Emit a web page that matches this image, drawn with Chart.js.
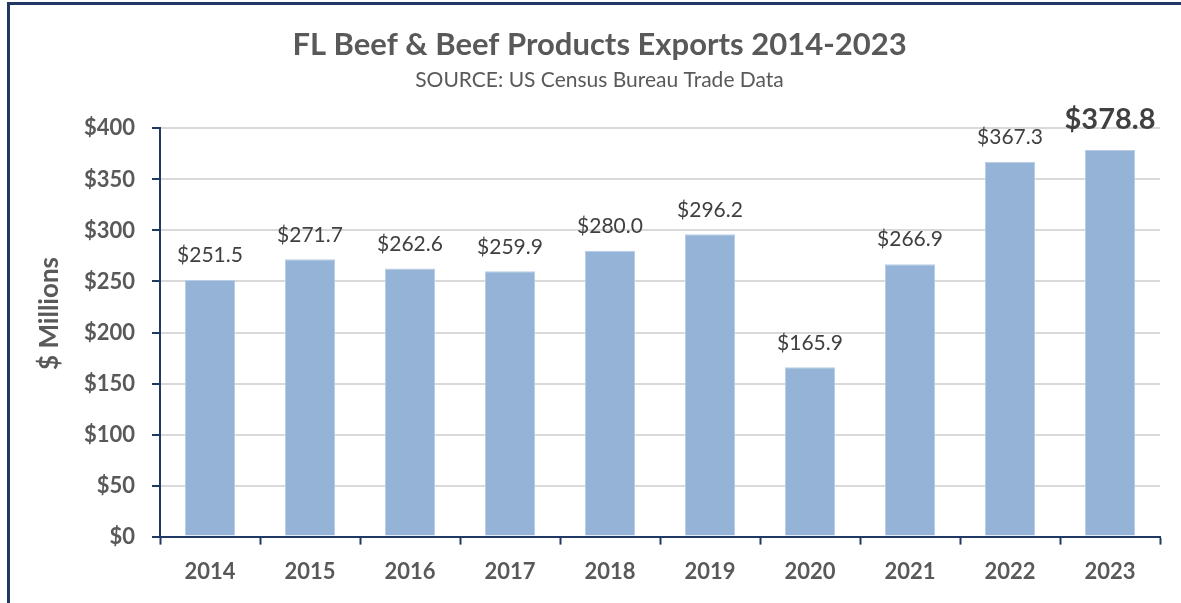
<!DOCTYPE html>
<html lang="en">
<head>
  <meta charset="UTF-8">
  <title>FL Beef & Beef Products Exports 2014-2023</title>
  <script src="https://cdn.jsdelivr.net/npm/chart.js@4"></script>
  <style>
    html, body { margin: 0; padding: 0; background: #fff; overflow: hidden; }
    .frame {
      position: absolute; left: 7px; top: 2px; width: 1300px; height: 700px;
      border-left: 3px solid #1F3864; border-top: 3px solid #1F3864;
    }
    .chart-box { position: absolute; left: 0; top: 0; width: 1181px; height: 603px; }
  </style>
</head>
<body>
<div class="frame"></div>
<div class="chart-box"><canvas id="chart"></canvas></div>
<script>
// données
const years = ['2014', '2015', '2016', '2017', '2018', '2019', '2020', '2021', '2022', '2023'];
const exportsMillions = [251.5, 271.7, 262.6, 259.9, 280.0, 296.2, 165.9, 266.9, 367.3, 378.8];
const yTicks = [0, 50, 100, 150, 200, 250, 300, 350, 400];

const FONT = 'Lato, "Open Sans", sans-serif';
const NAVY = '#1F3864';

// étiquettes au-dessus des barres (la dernière en gras)
const barLabels = {
  id: 'barLabels',
  afterDatasetsDraw(chart) {
    const ctx = chart.ctx;
    const meta = chart.getDatasetMeta(0);
    ctx.save();
    ctx.textAlign = 'center';
    ctx.textBaseline = 'bottom';
    ctx.fillStyle = '#404040';
    meta.data.forEach((bar, i) => {
      const last = i === meta.data.length - 1;
      ctx.font = last ? 'bold 29px ' + FONT : '21px ' + FONT;
      ctx.fillText('$' + exportsMillions[i].toFixed(1), bar.x, bar.y - (last ? 16 : 14));
    });
    ctx.restore();
  }
};

// titre de l'axe Y, un peu au-dessus du centre comme dans Excel
const yAxisTitle = {
  id: 'yAxisTitle',
  afterDraw(chart) {
    const { ctx, chartArea } = chart;
    ctx.save();
    ctx.translate(50, (chartArea.top + chartArea.bottom) / 2 - 19);
    ctx.rotate(-Math.PI / 2);
    ctx.textAlign = 'center';
    ctx.textBaseline = 'middle';
    ctx.fillStyle = '#595959';
    ctx.font = 'bold 26px ' + FONT;
    ctx.fillText('$ Millions', 0, 0);
    ctx.restore();
  }
};

new Chart(document.getElementById('chart'), {
  type: 'bar',
  data: {
    labels: years,
    datasets: [{
      data: exportsMillions,
      backgroundColor: '#95B3D7',
      borderColor: '#B9CDE5',
      borderWidth: 1,
      barPercentage: 0.5,
      categoryPercentage: 1.0
    }]
  },
  options: {
    responsive: true,
    maintainAspectRatio: false,
    animation: false,
    layout: { padding: { top: 12, left: 39, right: 21, bottom: 4 } },
    plugins: {
      legend: { display: false },
      tooltip: { enabled: false },
      title: {
        display: true,
        text: 'FL Beef & Beef Products Exports 2014-2023',
        color: '#595959',
        font: { family: FONT, size: 31, weight: 'bold' },
        padding: { top: 14, bottom: 4 }
      },
      subtitle: {
        display: true,
        text: 'SOURCE: US Census Bureau Trade Data',
        color: '#595959',
        font: { family: FONT, size: 21 },
        padding: { top: 0, bottom: 36 }
      }
    },
    scales: {
      x: {
        grid: {
          drawOnChartArea: false,
          drawTicks: true,
          tickLength: 8,
          tickColor: NAVY,
          tickWidth: 2
        },
        border: { color: NAVY, width: 2 },
        ticks: {
          color: '#595959',
          font: { family: FONT, size: 22, weight: 'bold' },
          padding: 14
        }
      },
      y: {
        min: 0,
        max: 400,
        afterBuildTicks(scale) {
          scale.ticks = yTicks.map(v => ({ value: v }));
        },
        afterFit(scale) { scale.width = 121; },
        grid: {
          color: '#D9D9D9',
          lineWidth: 2,
          tickLength: 8,
          tickColor: NAVY,
          tickWidth: 2
        },
        border: { color: NAVY, width: 2 },
        ticks: {
          color: '#595959',
          font: { family: FONT, size: 22, weight: 'bold' },
          padding: 17,
          callback: v => '$' + v
        }
      }
    }
  },
  plugins: [barLabels, yAxisTitle]
});
</script>
</body>
</html>
